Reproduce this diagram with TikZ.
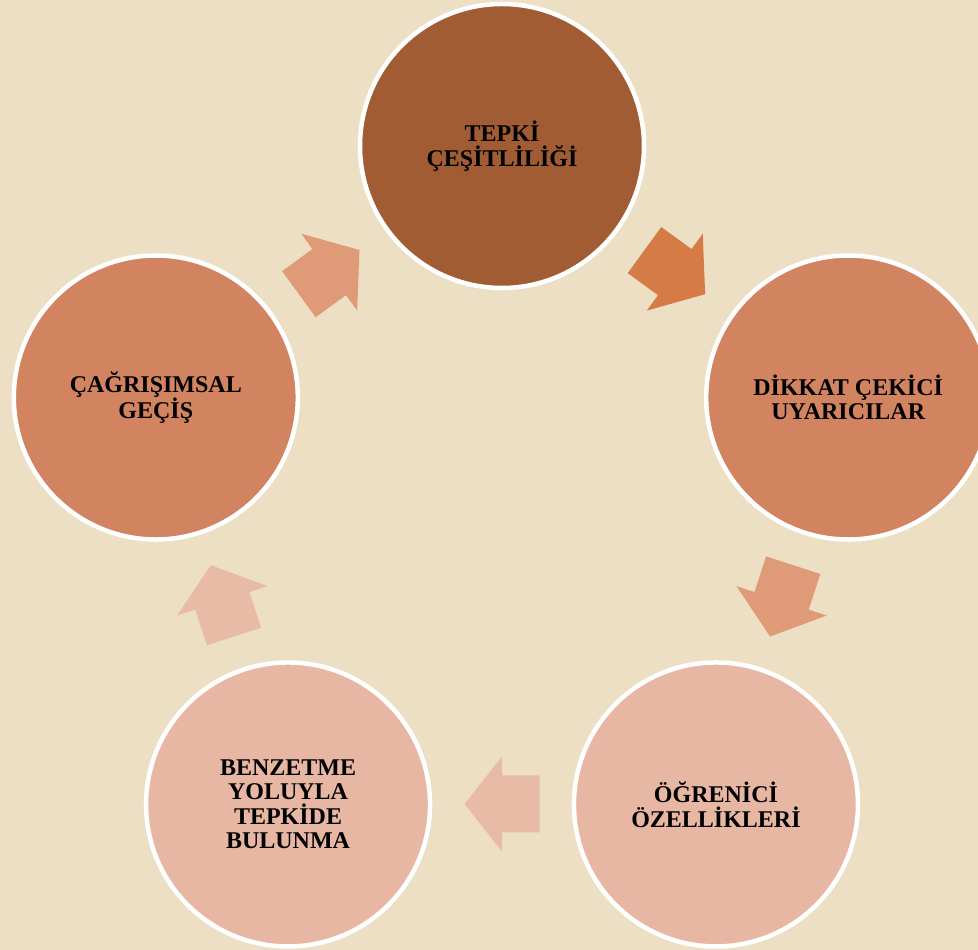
\documentclass[tikz,border=0pt]{standalone}
\usepackage{fontspec}
\setmainfont{Liberation Serif}
\definecolor{bg}{RGB}{236,223,196}
\definecolor{cA}{RGB}{161,92,51}
\definecolor{cB}{RGB}{210,132,96}
\definecolor{cC}{RGB}{231,183,164}
\definecolor{aA}{RGB}{213,124,70}
\definecolor{aB}{RGB}{223,155,120}
\definecolor{aC}{RGB}{232,187,167}
\tikzset{
  stagecircle/.style={circle, draw=white, line width=4.5pt, minimum size=284pt, inner sep=0pt,
    align=center, text=black, font=\bfseries\fontsize{24}{24.5}\selectfont},
  cyclearrow/.pic={\fill[pic actions] (-37.5,28.5) -- (0,28.5) -- (0,47.5) -- (37.5,0) -- (0,-47.5) -- (0,-28.5) -- (-37.5,-28.5) -- cycle;}
}
\begin{document}
\begin{tikzpicture}[x=1pt,y=1pt]
\fill[bg] (0,0) rectangle (978,950);
\useasboundingbox (0,0) rectangle (978,950);
\coordinate (ctr) at (502,440);
% arrows
\pic[fill=aA, rotate=-36] at ([shift={(ctr)}]54:294) {cyclearrow};
\pic[fill=aB, rotate=-108] at ([shift={(ctr)}]-18:294) {cyclearrow};
\pic[fill=aC, rotate=-180] at ([shift={(ctr)}]-90:294) {cyclearrow};
\pic[fill=aC, rotate=-252] at ([shift={(ctr)}]-162:294) {cyclearrow};
\pic[fill=aB, rotate=36] at ([shift={(ctr)}]126:294) {cyclearrow};
% circles
\node[stagecircle, fill=cA] (n1) at ([shift={(ctr)}]90:364) {TEPKİ\\ÇEŞİTLİLİĞİ};
\node[stagecircle, fill=cB] (n2) at ([shift={(ctr)}]18:364) {DİKKAT ÇEKİCİ\\UYARICILAR};
\node[stagecircle, fill=cC] (n3) at ([shift={(ctr)}]-54:364) {ÖĞRENİCİ\\ÖZELLİKLERİ};
\node[stagecircle, fill=cC] (n4) at ([shift={(ctr)}]-126:364) {BENZETME\\YOLUYLA\\TEPKİDE\\BULUNMA};
\node[stagecircle, fill=cB] (n5) at ([shift={(ctr)}]162:364) {ÇAĞRIŞIMSAL\\GEÇİŞ};
\end{tikzpicture}
\end{document}
